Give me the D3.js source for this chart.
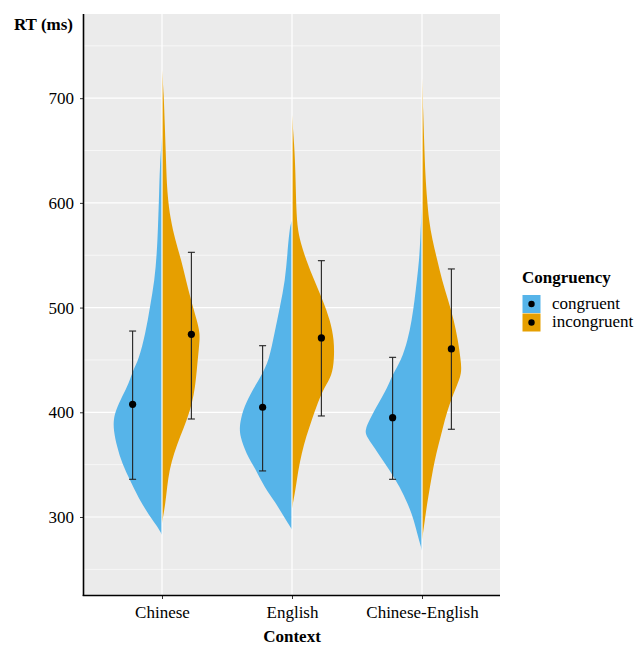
<!DOCTYPE html>
<html lang="en">
<head>
    <meta charset="UTF-8">
    <title>RT by context</title>
    <style>
        body { margin: 0; background: #fff; }
        text { font-family: "Liberation Serif", "Times New Roman", serif; fill: #000; }
    </style>
</head>
<body>
    <div class="canvas"></div>

    <script src="https://d3js.org/d3.v7.min.js"></script>
    <script>
        const contexts = ["Chinese", "English", "Chinese-English"];
        const conditions = ["congruent", "incongruent"];

        // means and error bar ends, [congruent, incongruent] per context
        const means = [[407.6, 474.5], [404.8, 471.0], [394.9, 460.5]];
        const lower = [[336.0, 393.6], [344.0, 396.5], [336.0, 383.8]];
        const upper = [[477.6, 552.8], [463.6, 544.8], [452.5, 536.9]];

        // density profiles: [rt, relative density]
        const densChineseCong = [[283, 0], [291, 0.08], [300, 0.21], [319, 0.42], [335, 0.56], [351, 0.70],
            [367, 0.79], [383, 0.85], [393, 0.85], [402, 0.81], [415, 0.70], [428, 0.58], [440, 0.51],
            [450, 0.41], [475, 0.29], [501, 0.21], [526, 0.13], [552, 0.09], [577, 0.07], [609, 0.05],
            [633, 0.04], [665, 0]];
        const densChineseIncong = [[294, 0], [313, 0.06], [329, 0.09], [345, 0.13], [361, 0.21], [377, 0.32],
            [393, 0.44], [409, 0.53], [424, 0.58], [440, 0.61], [463, 0.65], [475, 0.67], [488, 0.61],
            [507, 0.51], [526, 0.42], [545, 0.34], [565, 0.23], [584, 0.15], [609, 0.09], [641, 0.07],
            [673, 0.05], [705, 0.03], [727, 0]];
        const densEnglishCong = [[288, 0], [300, 0.14], [313, 0.28], [329, 0.49], [345, 0.63], [361, 0.81],
            [377, 0.91], [386, 0.92], [396, 0.89], [409, 0.81], [424, 0.66], [435, 0.54], [450, 0.40],
            [475, 0.31], [501, 0.21], [526, 0.12], [552, 0.08], [577, 0.04], [583, 0]];
        const densEnglishIncong = [[308, 0], [329, 0.07], [345, 0.11], [361, 0.17], [377, 0.25], [393, 0.35],
            [409, 0.45], [424, 0.57], [435, 0.70], [450, 0.74], [469, 0.74], [488, 0.67], [507, 0.54],
            [526, 0.39], [545, 0.25], [562, 0.15], [577, 0.09], [603, 0.07], [630, 0.06], [655, 0.04],
            [684, 0]];
        const densMixedCong = [[268, 0], [281, 0.07], [297, 0.14], [313, 0.25], [329, 0.39], [345, 0.57],
            [361, 0.77], [377, 0.98], [383, 1.0], [393, 0.92], [409, 0.76], [424, 0.60], [435, 0.53],
            [450, 0.36], [469, 0.25], [488, 0.18], [507, 0.13], [526, 0.09], [545, 0.05], [565, 0.03],
            [600, 0]];
        const densMixedIncong = [[278, 0], [297, 0.05], [313, 0.09], [329, 0.14], [345, 0.19], [361, 0.25],
            [377, 0.33], [393, 0.40], [409, 0.49], [424, 0.60], [437, 0.70], [450, 0.68], [469, 0.63],
            [488, 0.56], [507, 0.46], [526, 0.35], [545, 0.27], [565, 0.18], [584, 0.12], [603, 0.09],
            [625, 0.06], [654, 0.04], [690, 0.02], [719, 0]];

        const densities = [
            [densChineseCong, densChineseIncong],
            [densEnglishCong, densEnglishIncong],
            [densMixedCong, densMixedIncong]
        ];

        const yTicks = [300, 400, 500, 600, 700];
        const yMinor = [250, 350, 450, 550, 650, 750];

        const colors = ["#56B4E9", "#E69F00"];

        const dims = { width: 637, height: 646 };
        const panel = { left: 84, top: 14, width: 416, height: 581 };

        const svg = d3.select('.canvas')
            .append('svg')
            .attr('width', dims.width)
            .attr('height', dims.height);

        const x = d3.scalePoint()
            .domain(contexts)
            .range([panel.left, panel.left + panel.width])
            .padding(0.6);

        const y = d3.scaleLinear()
            .domain([225.5, 780.4])
            .range([panel.top + panel.height, panel.top]);

        const dens = d3.scaleLinear().domain([0, 1]).range([0, 57]);
        const dodge = x.step() * 0.226;

        // panel background + grid
        svg.append('rect')
            .attr('x', panel.left).attr('y', panel.top)
            .attr('width', panel.width).attr('height', panel.height)
            .attr('fill', '#EBEBEB');

        svg.selectAll('.minor')
            .data(yMinor)
            .enter().append('line')
            .attr('x1', panel.left).attr('x2', panel.left + panel.width)
            .attr('y1', d => y(d)).attr('y2', d => y(d))
            .attr('stroke', '#fff').attr('stroke-width', 0.6);

        svg.selectAll('.major')
            .data(yTicks)
            .enter().append('line')
            .attr('x1', panel.left).attr('x2', panel.left + panel.width)
            .attr('y1', d => y(d)).attr('y2', d => y(d))
            .attr('stroke', '#fff').attr('stroke-width', 1.2);

        // half violins
        const graph = svg.append('g');
        contexts.forEach((c, i) => {
            const cx = x(c);
            densities[i].forEach((prof, j) => {
                const area = d3.area()
                    .curve(d3.curveBasis)
                    .y(d => y(d[0]))
                    .x0(d => j === 0 ? cx - dens(d[1]) : cx)
                    .x1(d => j === 0 ? cx : cx + dens(d[1]));
                graph.append('path')
                    .attr('d', area(prof))
                    .attr('fill', colors[j]);
            });
        });

        // vertical grid lines show over the split
        svg.selectAll('.vgrid')
            .data(contexts)
            .enter().append('line')
            .attr('x1', d => x(d)).attr('x2', d => x(d))
            .attr('y1', panel.top).attr('y2', panel.top + panel.height)
            .attr('stroke', '#fff').attr('stroke-width', 1.2);

        // error bars + means
        const cap = 3.5;
        contexts.forEach((c, i) => {
            conditions.forEach((k, j) => {
                const px = x(c) + (j === 0 ? -dodge : dodge);
                const g = svg.append('g').attr('stroke', '#222').attr('stroke-width', 1.1);
                g.append('line').attr('x1', px).attr('x2', px)
                    .attr('y1', y(lower[i][j])).attr('y2', y(upper[i][j]));
                g.append('line').attr('x1', px - cap).attr('x2', px + cap)
                    .attr('y1', y(lower[i][j])).attr('y2', y(lower[i][j]));
                g.append('line').attr('x1', px - cap).attr('x2', px + cap)
                    .attr('y1', y(upper[i][j])).attr('y2', y(upper[i][j]));
                svg.append('circle')
                    .attr('cx', px).attr('cy', y(means[i][j]))
                    .attr('r', 3.6).attr('fill', '#000');
            });
        });

        // axes
        const yAxis = svg.append('g')
            .attr('transform', `translate(${panel.left},0)`)
            .call(d3.axisLeft(y).tickValues(yTicks).tickSize(4).tickPadding(6));
        yAxis.select('.domain').remove();
        yAxis.selectAll('line').attr('stroke', '#333');
        yAxis.selectAll('text').style('font-size', '17px').attr('fill', '#000')
            .style('font-family', '"Liberation Serif", serif');

        const xAxis = svg.append('g')
            .attr('transform', `translate(0,${panel.top + panel.height})`)
            .call(d3.axisBottom(x).tickSize(4).tickPadding(7));
        xAxis.select('.domain').remove();
        xAxis.selectAll('line').attr('stroke', '#333');
        xAxis.selectAll('text').style('font-size', '17px').attr('fill', '#000')
            .style('font-family', '"Liberation Serif", serif');

        svg.append('line')
            .attr('x1', panel.left - 0.5).attr('x2', panel.left - 0.5)
            .attr('y1', panel.top).attr('y2', panel.top + panel.height + 1)
            .attr('stroke', '#000').attr('stroke-width', 1.6);
        svg.append('line')
            .attr('x1', panel.left - 1.3).attr('x2', panel.left + panel.width)
            .attr('y1', panel.top + panel.height + 0.5).attr('y2', panel.top + panel.height + 0.5)
            .attr('stroke', '#000').attr('stroke-width', 1.6);

        // titles
        svg.append('text')
            .attr('x', 73).attr('y', 30)
            .attr('text-anchor', 'end')
            .style('font-size', '17px').style('font-weight', 'bold')
            .text('RT (ms)');

        svg.append('text')
            .attr('x', panel.left + panel.width / 2).attr('y', 642)
            .attr('text-anchor', 'middle')
            .style('font-size', '17px').style('font-weight', 'bold')
            .text('Context');

        // legend
        const legend = svg.append('g').attr('transform', 'translate(522,283)');
        legend.append('text')
            .attr('x', 0).attr('y', 0)
            .style('font-size', '17px').style('font-weight', 'bold')
            .text('Congruency');
        conditions.forEach((k, j) => {
            const ky = 12 + j * 18.5;
            legend.append('rect')
                .attr('x', 0.5).attr('y', ky)
                .attr('width', 18).attr('height', 18)
                .attr('fill', colors[j]);
            legend.append('circle')
                .attr('cx', 9.5).attr('cy', ky + 9)
                .attr('r', 3.2).attr('fill', '#000');
            legend.append('text')
                .attr('x', 30).attr('y', ky + 13.5)
                .style('font-size', '17px')
                .text(k);
        });
    </script>
</body>
</html>
